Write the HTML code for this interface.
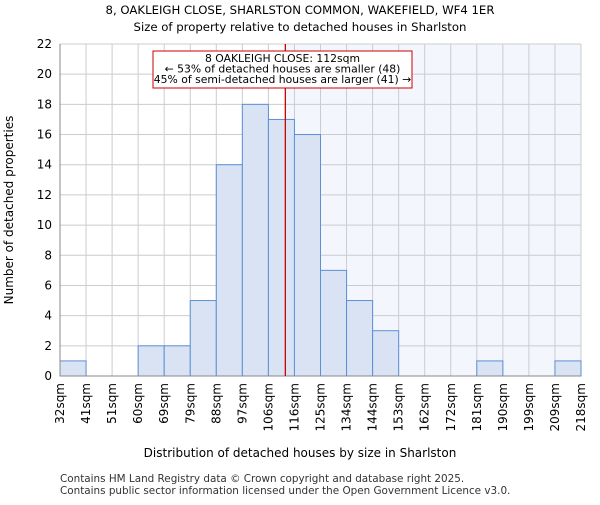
<!DOCTYPE html>
<html><head><meta charset="utf-8"><style>
body{margin:0;background:#fff;}
svg{font-family:"DejaVu Sans","Liberation Sans",sans-serif;}
</style></head><body>
<svg id="c" width="600" height="500" viewBox="0 0 600 500">
<text x="300" y="14" text-anchor="middle" font-size="11.7">8, OAKLEIGH CLOSE, SHARLSTON COMMON, WAKEFIELD, WF4 1ER</text>
<text x="300" y="31" text-anchor="middle" font-size="11.7">Size of property relative to detached houses in Sharlston</text>
<g id="plot"></g>
<text x="300" y="457" text-anchor="middle" font-size="12">Distribution of detached houses by size in Sharlston</text>
<text transform="translate(13,210) rotate(-90)" text-anchor="middle" font-size="12">Number of detached properties</text>
<text x="60" y="482" font-size="10.4" fill="#333">Contains HM Land Registry data © Crown copyright and database right 2025.</text>
<text x="60" y="494" font-size="10.4" fill="#333">Contains public sector information licensed under the Open Government Licence v3.0.</text>
</svg>
<script>
const labels=["32sqm","41sqm","51sqm","60sqm","69sqm","79sqm","88sqm","97sqm","106sqm","116sqm","125sqm","134sqm","144sqm","153sqm","162sqm","172sqm","181sqm","190sqm","199sqm","209sqm","218sqm"];
const counts=[1,0,0,2,2,5,14,18,17,16,7,5,3,0,0,0,1,0,0,1];
const yTicks=[0,2,4,6,8,10,12,14,16,18,20,22];
const markerIndex=8.65;
const L=60,R=581,T=44,B=376,YMAX=22;
const NS="http://www.w3.org/2000/svg";
const g=document.getElementById('plot');
const bw=(R-L)/counts.length;
const xs=i=>L+i*bw;
const ys=v=>B-(v/YMAX)*(B-T);
function mk(t,a){const e=document.createElementNS(NS,t);for(const k in a)e.setAttribute(k,a[k]);g.appendChild(e);return e;}
const mx=xs(markerIndex);
let e=mk('rect',{x:mx,y:T,width:R-mx,height:B-T,fill:'#f3f6fd'});


for(let i=0;i<=counts.length;i++){e=mk('line',{x1:xs(i),x2:xs(i),y1:T,y2:B,stroke:'#cccccc','stroke-width':1});

}
yTicks.forEach(t=>{e=mk('line',{x1:L,x2:R,y1:ys(t),y2:ys(t),stroke:'#cccccc','stroke-width':1});


const tx=mk('text',{x:L-8,y:ys(t)+4,'text-anchor':'end','font-size':12});tx.textContent=t;

});
counts.forEach((v,i)=>{if(v<=0)return;e=mk('rect',{x:xs(i),y:ys(v),width:bw,height:B-ys(v),fill:'#dae3f3',stroke:'#5b8fd6','stroke-width':1});

});
labels.forEach((l,i)=>{const x=xs(i)+4;const t=mk('text',{transform:`translate(${x},383) rotate(-90)`,'text-anchor':'end','font-size':12});t.textContent=l;

});
e=mk('line',{x1:L,x2:L,y1:T,y2:B,stroke:'#888'});


e=mk('line',{x1:L,x2:R,y1:B,y2:B,stroke:'#888'});


e=mk('line',{x1:mx,x2:mx,y1:T,y2:B,stroke:'#cc0000','stroke-width':1.3});


e=mk('rect',{x:153,y:51,width:259,height:37,fill:'#fff',stroke:'#cc0000','stroke-width':1});


["8 OAKLEIGH CLOSE: 112sqm","← 53% of detached houses are smaller (48)","45% of semi-detached houses are larger (41) →"].forEach((s,i)=>{const t=mk('text',{x:282.5,y:62+i*10.5,'text-anchor':'middle','font-size':10.8});t.textContent=s;

});
</script>
</body></html>
